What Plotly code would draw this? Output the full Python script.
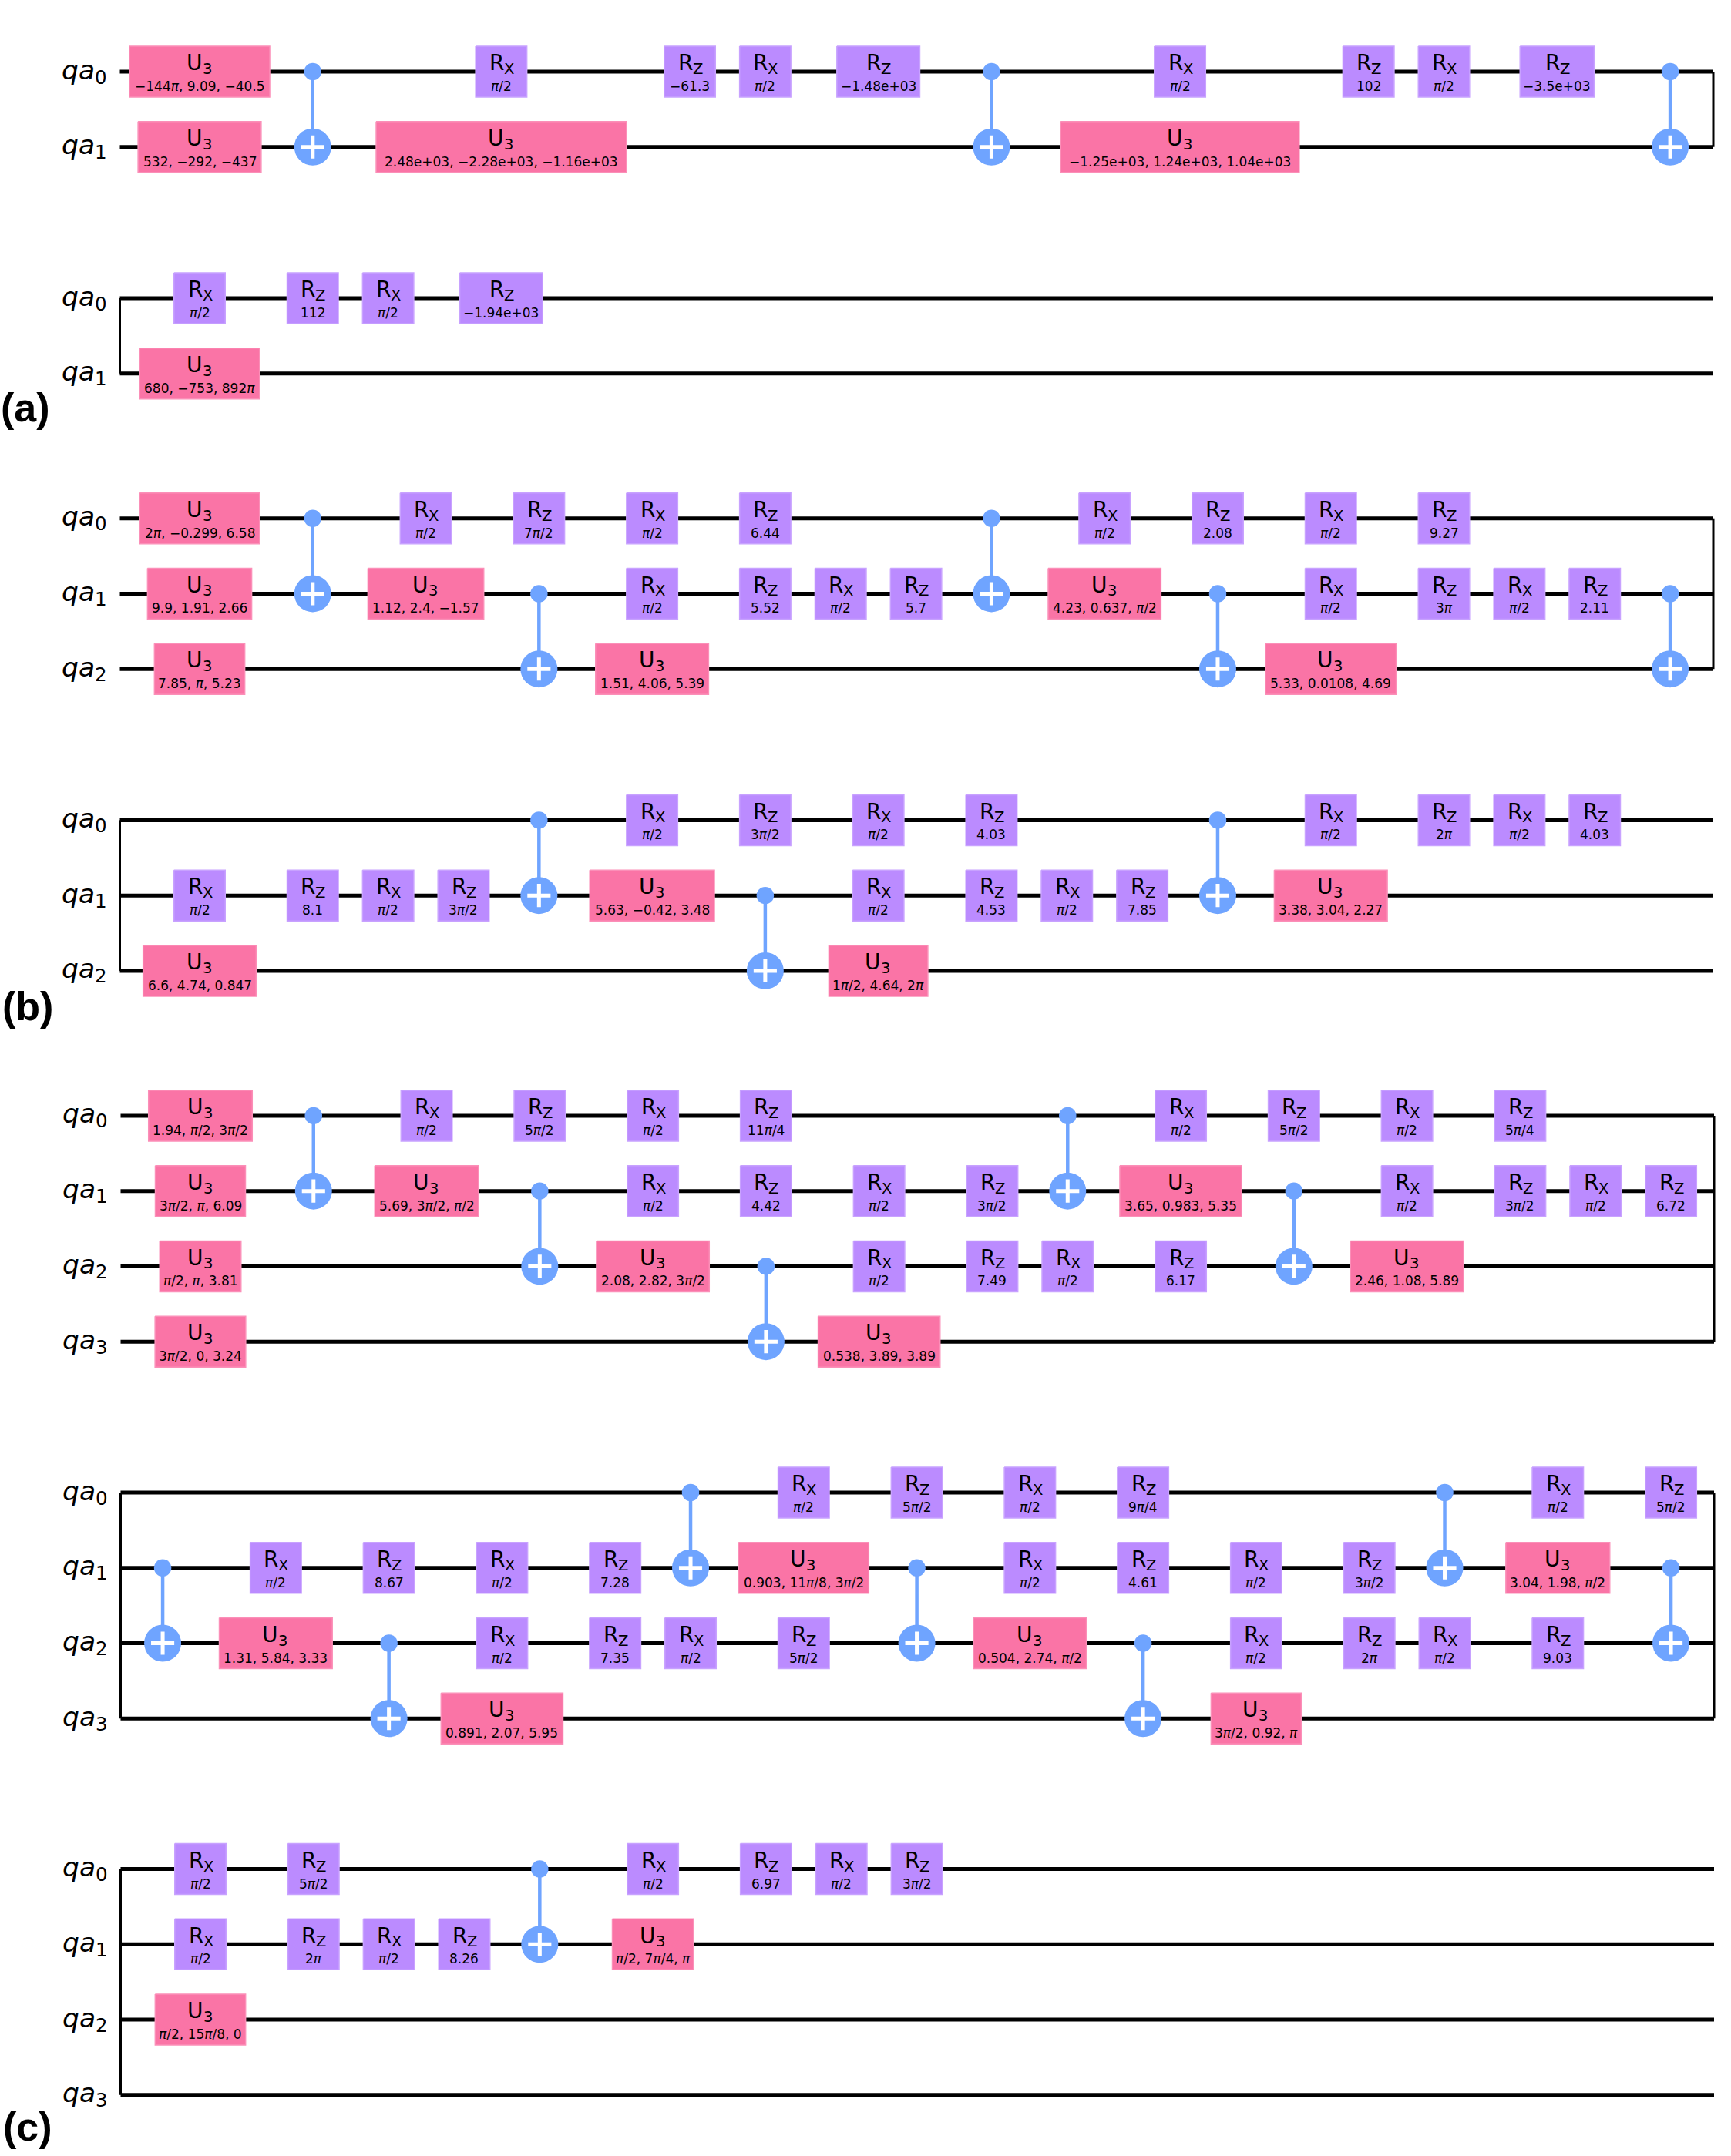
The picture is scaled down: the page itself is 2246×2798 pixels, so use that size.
import plotly.graph_objects as go

# gates are (name, wire, column, params), cnots are (control wire, target wire, column)
a1_gates = [
    ("U3", 0, 0, "−144π, 9.09, −40.5"), ("Rx", 0, 4, "π/2"), ("Rz", 0, 6.5, "−61.3"), ("Rx", 0, 7.5, "π/2"),
    ("Rz", 0, 9, "−1.48e+03"), ("Rx", 0, 13, "π/2"), ("Rz", 0, 15.5, "102"), ("Rx", 0, 16.5, "π/2"),
    ("Rz", 0, 18, "−3.5e+03"),
    ("U3", 1, 0, "532, −292, −437"), ("U3", 1, 4, "2.48e+03, −2.28e+03, −1.16e+03"),
    ("U3", 1, 13, "−1.25e+03, 1.24e+03, 1.04e+03"),
]
a1_cnots = [(0, 1, 1.5), (0, 1, 10.5), (0, 1, 19.5)]

a2_gates = [
    ("Rx", 0, 0, "π/2"), ("Rz", 0, 1.5, "112"), ("Rx", 0, 2.5, "π/2"), ("Rz", 0, 4, "−1.94e+03"),
    ("U3", 1, 0, "680, −753, 892π"),
]
a2_cnots = []

b1_gates = [
    ("U3", 0, 0, "2π, −0.299, 6.58"), ("Rx", 0, 3, "π/2"), ("Rz", 0, 4.5, "7π/2"), ("Rx", 0, 6, "π/2"),
    ("Rz", 0, 7.5, "6.44"), ("Rx", 0, 12, "π/2"), ("Rz", 0, 13.5, "2.08"), ("Rx", 0, 15, "π/2"),
    ("Rz", 0, 16.5, "9.27"),
    ("U3", 1, 0, "9.9, 1.91, 2.66"), ("U3", 1, 3, "1.12, 2.4, −1.57"), ("Rx", 1, 6, "π/2"), ("Rz", 1, 7.5, "5.52"),
    ("Rx", 1, 8.5, "π/2"), ("Rz", 1, 9.5, "5.7"), ("U3", 1, 12, "4.23, 0.637, π/2"), ("Rx", 1, 15, "π/2"),
    ("Rz", 1, 16.5, "3π"), ("Rx", 1, 17.5, "π/2"), ("Rz", 1, 18.5, "2.11"),
    ("U3", 2, 0, "7.85, π, 5.23"), ("U3", 2, 6, "1.51, 4.06, 5.39"), ("U3", 2, 15, "5.33, 0.0108, 4.69"),
]
b1_cnots = [(0, 1, 1.5), (1, 2, 4.5), (0, 1, 10.5), (1, 2, 13.5), (1, 2, 19.5)]

b2_gates = [
    ("Rx", 0, 6, "π/2"), ("Rz", 0, 7.5, "3π/2"), ("Rx", 0, 9, "π/2"), ("Rz", 0, 10.5, "4.03"),
    ("Rx", 0, 15, "π/2"), ("Rz", 0, 16.5, "2π"), ("Rx", 0, 17.5, "π/2"), ("Rz", 0, 18.5, "4.03"),
    ("Rx", 1, 0, "π/2"), ("Rz", 1, 1.5, "8.1"), ("Rx", 1, 2.5, "π/2"), ("Rz", 1, 3.5, "3π/2"),
    ("U3", 1, 6, "5.63, −0.42, 3.48"), ("Rx", 1, 9, "π/2"), ("Rz", 1, 10.5, "4.53"), ("Rx", 1, 11.5, "π/2"),
    ("Rz", 1, 12.5, "7.85"), ("U3", 1, 15, "3.38, 3.04, 2.27"),
    ("U3", 2, 0, "6.6, 4.74, 0.847"), ("U3", 2, 9, "1π/2, 4.64, 2π"),
]
b2_cnots = [(0, 1, 4.5), (1, 2, 7.5), (0, 1, 13.5)]

c1_gates = [
    ("U3", 0, 0, "1.94, π/2, 3π/2"), ("Rx", 0, 3, "π/2"), ("Rz", 0, 4.5, "5π/2"), ("Rx", 0, 6, "π/2"),
    ("Rz", 0, 7.5, "11π/4"), ("Rx", 0, 13, "π/2"), ("Rz", 0, 14.5, "5π/2"), ("Rx", 0, 16, "π/2"),
    ("Rz", 0, 17.5, "5π/4"),
    ("U3", 1, 0, "3π/2, π, 6.09"), ("U3", 1, 3, "5.69, 3π/2, π/2"), ("Rx", 1, 6, "π/2"), ("Rz", 1, 7.5, "4.42"),
    ("Rx", 1, 9, "π/2"), ("Rz", 1, 10.5, "3π/2"), ("U3", 1, 13, "3.65, 0.983, 5.35"), ("Rx", 1, 16, "π/2"),
    ("Rz", 1, 17.5, "3π/2"), ("Rx", 1, 18.5, "π/2"), ("Rz", 1, 19.5, "6.72"),
    ("U3", 2, 0, "π/2, π, 3.81"), ("U3", 2, 6, "2.08, 2.82, 3π/2"), ("Rx", 2, 9, "π/2"), ("Rz", 2, 10.5, "7.49"),
    ("Rx", 2, 11.5, "π/2"), ("Rz", 2, 13, "6.17"), ("U3", 2, 16, "2.46, 1.08, 5.89"),
    ("U3", 3, 0, "3π/2, 0, 3.24"), ("U3", 3, 9, "0.538, 3.89, 3.89"),
]
c1_cnots = [(0, 1, 1.5), (1, 2, 4.5), (2, 3, 7.5), (0, 1, 11.5), (1, 2, 14.5)]

c2_gates = [
    ("Rx", 0, 8, "π/2"), ("Rz", 0, 9.5, "5π/2"), ("Rx", 0, 11, "π/2"), ("Rz", 0, 12.5, "9π/4"),
    ("Rx", 0, 18, "π/2"), ("Rz", 0, 19.5, "5π/2"),
    ("Rx", 1, 1, "π/2"), ("Rz", 1, 2.5, "8.67"), ("Rx", 1, 4, "π/2"), ("Rz", 1, 5.5, "7.28"),
    ("U3", 1, 8, "0.903, 11π/8, 3π/2"), ("Rx", 1, 11, "π/2"), ("Rz", 1, 12.5, "4.61"), ("Rx", 1, 14, "π/2"),
    ("Rz", 1, 15.5, "3π/2"), ("U3", 1, 18, "3.04, 1.98, π/2"),
    ("U3", 2, 1, "1.31, 5.84, 3.33"), ("Rx", 2, 4, "π/2"), ("Rz", 2, 5.5, "7.35"), ("Rx", 2, 6.5, "π/2"),
    ("Rz", 2, 8, "5π/2"), ("U3", 2, 11, "0.504, 2.74, π/2"), ("Rx", 2, 14, "π/2"), ("Rz", 2, 15.5, "2π"),
    ("Rx", 2, 16.5, "π/2"), ("Rz", 2, 18, "9.03"),
    ("U3", 3, 4, "0.891, 2.07, 5.95"), ("U3", 3, 14, "3π/2, 0.92, π"),
]
c2_cnots = [(1, 2, -0.5), (2, 3, 2.5), (0, 1, 6.5), (1, 2, 9.5), (2, 3, 12.5), (0, 1, 16.5), (1, 2, 19.5)]

c3_gates = [
    ("Rx", 0, 0, "π/2"), ("Rz", 0, 1.5, "5π/2"), ("Rx", 0, 6, "π/2"), ("Rz", 0, 7.5, "6.97"),
    ("Rx", 0, 8.5, "π/2"), ("Rz", 0, 9.5, "3π/2"),
    ("Rx", 1, 0, "π/2"), ("Rz", 1, 1.5, "2π"), ("Rx", 1, 2.5, "π/2"), ("Rz", 1, 3.5, "8.26"),
    ("U3", 1, 6, "π/2, 7π/4, π"),
    ("U3", 2, 0, "π/2, 15π/8, 0"),
]
c3_cnots = [(0, 1, 4.5)]

panel_labels = ["(a)", "(b)", "(c)"]
gate_names = {"U3": ("U", "3"), "Rx": ("R", "X"), "Rz": ("R", "Z")}

# layout of the sheet, in pixels
W, H = 2246, 2798
UNIT = 97.85
COL0 = 259.0
WIRE_GAP = 97.75
BOX_H = 66
MIN_BOX = 66.5
PARAM_PX = 17

PINK = "#FA74A6"
PURPLE = "#BB8BFF"
BLUE = "#6FA4FF"

# gates, cnots, first wire y, wire count, shift x, left bracket, right bracket
rows = [
    (a1_gates, a1_cnots, 93.0, 2, 0.0, False, True),
    (a2_gates, a2_cnots, 387.0, 2, 0.0, True, False),
    (b1_gates, b1_cnots, 672.7, 3, 0.0, False, True),
    (b2_gates, b2_cnots, 1064.4, 3, 0.0, True, False),
    (c1_gates, c1_cnots, 1447.9, 4, 1.0, False, True),
    (c2_gates, c2_cnots, 1937.0, 4, 1.0, True, True),
    (c3_gates, c3_cnots, 2425.6, 4, 1.0, True, False),
]
label_pos = [(1, 529), (3, 1306), (4, 2760)]

char_em = {",": 0.318, " ": 0.318, ".": 0.318, "−": 0.838, "+": 0.838, "/": 0.337, "e": 0.615, "π": 0.6}


def to_col(px):
    return (px - COL0) / UNIT


def box_width(params):
    # box follows the text width, like the drawer of the original does
    em = sum(char_em.get(ch, 0.636) for ch in params)
    return max(MIN_BOX, 1.063 * em * PARAM_PX + 3)


def note(x, y, text, size, anchor="center", family="DejaVu Sans"):
    return dict(x=x, y=y, xref="x", yref="y", text=text, showarrow=False, xanchor=anchor, yanchor="middle",
                font=dict(family=family, size=size, color="#000000"), borderpad=0, borderwidth=0)


wire_x, wire_y = [], []
side_x, side_y = [], []
stem_x, stem_y = [], []
boxes = {PINK: ([], []), PURPLE: ([], [])}
notes = []
dot_x, dot_y = [], []
tgt_x, tgt_y = [], []

for gates, cnots, top, n_wires, shift, left, right in rows:
    ys = [top + WIRE_GAP * i for i in range(n_wires)]
    x_start = to_col(155.5 + shift)
    x_end = to_col(2223 + shift)
    for i, y in enumerate(ys):
        wire_x += [x_start, x_end, None]
        wire_y += [y, y, None]
        notes.append(note(to_col(122.5 + shift), y - 2.5, "<i>qa</i>", 34.5, "right"))
        notes.append(note(to_col(122.5 + shift), y + 7, str(i), 24.5, "left"))
    if left:
        side_x += [x_start, x_start, None]
        side_y += [ys[0], ys[-1], None]
    if right:
        side_x += [x_end, x_end, None]
        side_y += [ys[0], ys[-1], None]

    dx = shift / UNIT
    for ctrl, targ, col in cnots:
        stem_x += [col + dx, col + dx, None]
        stem_y += [ys[ctrl], ys[targ], None]
        dot_x.append(col + dx)
        dot_y.append(ys[ctrl])
        tgt_x.append(col + dx)
        tgt_y.append(ys[targ])

    for name, wire, col, params in gates:
        half = box_width(params) / 2 / UNIT
        y = ys[wire]
        bx, by = boxes[PINK if name == "U3" else PURPLE]
        left_x, right_x = col + dx - half, col + dx + half
        bx += [left_x, right_x, right_x, left_x, left_x, None]
        by += [y - BOX_H / 2, y - BOX_H / 2, y + BOX_H / 2, y + BOX_H / 2, y - BOX_H / 2, None]
        base, sub = gate_names[name]
        # the split point sits a few pixels right of the middle of the gate
        split = col + dx + 3.5 / UNIT
        notes.append(note(split, y - 11.3, base, 28, "right"))
        notes.append(note(split, y - 3.5, sub, 19.6, "left"))
        notes.append(note(col + dx, y + 19, params.replace("π", "<i>π</i>"), PARAM_PX))

for (px, py), label in zip(label_pos, panel_labels):
    notes.append(note(to_col(px), py, f"<b>{label}</b>", 52, "left", "Liberation Sans"))

fig = go.Figure()


def lines(xs, ys, color, width):
    fig.add_trace(go.Scatter(x=xs, y=ys, mode="lines", line=dict(color=color, width=width), hoverinfo="skip"))


def markers(xs, ys, symbol, size, color, line_w=0, line_c=None):
    fig.add_trace(go.Scatter(x=xs, y=ys, mode="markers", hoverinfo="skip",
                             marker=dict(symbol=symbol, size=size, color=color,
                                         line=dict(width=line_w, color=line_c or color))))


lines(wire_x, wire_y, "#000000", 5)
lines(side_x, side_y, "#000000", 3)
lines(stem_x, stem_y, BLUE, 4.5)
for color, edge in [(PINK, "#FB8FB8"), (PURPLE, "#C8A2FF")]:
    fig.add_trace(go.Scatter(x=boxes[color][0], y=boxes[color][1], mode="lines", fill="toself",
                             fillcolor=color, line=dict(color=edge, width=1.5), hoverinfo="skip"))
markers(dot_x, dot_y, "circle", 22.5, BLUE)
markers(tgt_x, tgt_y, "circle", 48, BLUE)
markers(tgt_x, tgt_y, "cross-thin", 21.5, "#FFFFFF", 5, "#FFFFFF")

fig.update_layout(
    width=W, height=H, showlegend=False,
    margin=dict(l=0, r=0, t=0, b=0),
    paper_bgcolor="#FFFFFF", plot_bgcolor="#FFFFFF",
    xaxis=dict(range=[to_col(0), to_col(W)], visible=False, fixedrange=True),
    yaxis=dict(range=[H, 0], visible=False, fixedrange=True),
    annotations=notes,
)

fig.write_html("out.html", post_script="document.body.style.margin='0';", config={"displayModeBar": False})
